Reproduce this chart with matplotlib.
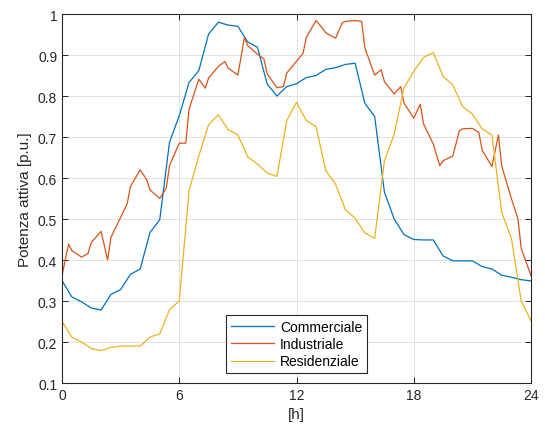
import matplotlib
matplotlib.use("Agg")
import matplotlib.pyplot as plt
from matplotlib.ticker import FuncFormatter

plt.rcParams['font.family'] = ['Liberation Sans', 'DejaVu Sans']

# Half-hourly profiles
hours_half = [i * 0.5 for i in range(49)]
commerciale = [0.35, 0.31, 0.298, 0.283, 0.278, 0.316, 0.328, 0.365, 0.378, 0.467,
               0.498, 0.687, 0.752, 0.833, 0.862, 0.951, 0.98, 0.973, 0.97, 0.932,
               0.919, 0.829, 0.80, 0.823, 0.83, 0.845, 0.85, 0.865, 0.869, 0.877,
               0.88, 0.782, 0.75, 0.565, 0.50, 0.462, 0.45, 0.449, 0.449, 0.41,
               0.398, 0.398, 0.398, 0.384, 0.378, 0.363, 0.358, 0.352, 0.349]
residenziale = [0.25, 0.212, 0.20, 0.184, 0.179, 0.187, 0.19, 0.19, 0.19, 0.212,
                0.22, 0.279, 0.30, 0.569, 0.654, 0.73, 0.754, 0.718, 0.705, 0.652,
                0.634, 0.612, 0.604, 0.74, 0.785, 0.74, 0.725, 0.618, 0.585, 0.523,
                0.502, 0.466, 0.453, 0.642, 0.707, 0.82, 0.86, 0.894, 0.906, 0.848,
                0.827, 0.774, 0.756, 0.72, 0.705, 0.516, 0.453, 0.30, 0.252]

# Industrial profile sampled at :00, :20 and :30 of each hour
hours_ind = []
for h in range(24):
    hours_ind += [h, h + 1 / 3, h + 0.5]
hours_ind.append(24)
industriale = [0.362, 0.439, 0.423, 0.407, 0.416, 0.443, 0.47, 0.40, 0.455,
               0.504, 0.537, 0.579, 0.62, 0.596, 0.571, 0.55, 0.575, 0.63,
               0.685, 0.685, 0.768, 0.841, 0.819, 0.844, 0.872, 0.884, 0.868,
               0.851, 0.943, 0.923, 0.902, 0.89, 0.854, 0.82, 0.823, 0.856,
               0.885, 0.904, 0.943, 0.984, 0.965, 0.954, 0.941, 0.978, 0.982,
               0.984, 0.982, 0.917, 0.851, 0.864, 0.835, 0.805, 0.823, 0.783,
               0.746, 0.78, 0.732, 0.683, 0.63, 0.642, 0.654, 0.715, 0.72,
               0.721, 0.711, 0.668, 0.628, 0.705, 0.63, 0.549, 0.50, 0.428,
               0.362]

x_ticks = [0, 6, 12, 18, 24]
y_ticks = [0.1, 0.2, 0.3, 0.4, 0.5, 0.6, 0.7, 0.8, 0.9, 1.0]

fig = plt.figure(figsize=(5.45, 4.35), dpi=100)
ax = fig.add_axes([0.1138, 0.1172, 0.8605, 0.8483])

lw = 0.9
ax.plot(hours_half, commerciale, color='#0072BD', lw=lw, label='Commerciale')
ax.plot(hours_ind, industriale, color='#D95319', lw=lw, label='Industriale')
ax.plot(hours_half, residenziale, color='#EDB120', lw=lw, label='Residenziale')

ax.set_xlim(0, 24)
ax.set_ylim(0.1, 1.0)
ax.set_xticks(x_ticks)
ax.set_yticks(y_ticks)
ax.yaxis.set_major_formatter(FuncFormatter(lambda v, p: f"{v:g}"))
ax.grid(True, color='#e2e2e2', lw=0.7)
ax.set_axisbelow(True)

for s in ax.spines.values():
    s.set_color('#262626')
    s.set_linewidth(0.8)
ax.tick_params(direction='in', length=4, width=0.7, color='#262626',
               labelcolor='#262626', labelsize=10, top=True, right=True)

ax.set_xlabel('[h]', fontsize=11, color='#262626')
ax.set_ylabel('Potenza attiva [p.u.]', fontsize=11, color='#262626')

leg = ax.legend(loc='lower center', bbox_to_anchor=(0.5, 0.015), fontsize=10,
                fancybox=False, framealpha=1, edgecolor='#262626',
                handlelength=3.1, borderpad=0.35, labelspacing=0.25,
                handletextpad=0.45, borderaxespad=0.3)
leg.get_frame().set_linewidth(0.8)

fig.savefig('out.png', dpi=100)
